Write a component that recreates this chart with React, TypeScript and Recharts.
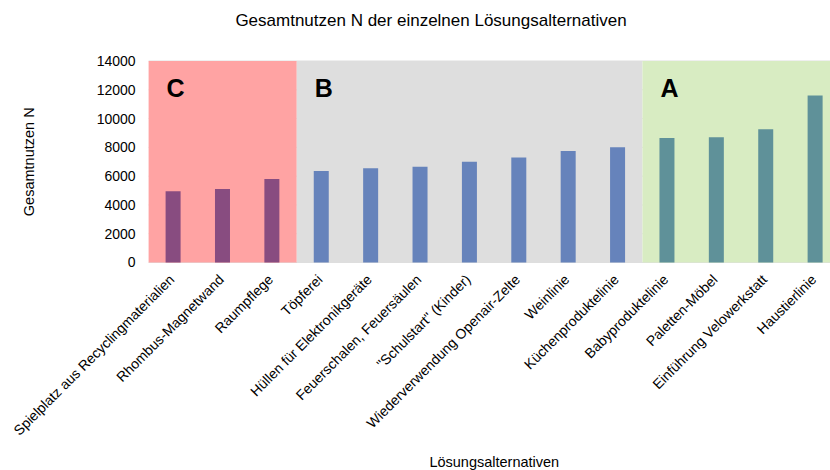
import {
    BarChart, Bar, XAxis, YAxis, CartesianGrid, ReferenceArea, Cell, Label,
} from 'recharts';

const categories = [
    'Spielplatz aus Recyclingmaterialien',
    'Rhombus-Magnetwand',
    'Raumpflege',
    'Töpferei',
    'Hüllen für Elektronikgeräte',
    'Feuerschalen, Feuersäulen',
    '"Schulstart" (Kinder)',
    'Wiederverwendung Openair-Zelte',
    'Weinlinie',
    'Küchenproduktelinie',
    'Babyproduktelinie',
    'Paletten-Möbel',
    'Einführung Velowerkstatt',
    'Haustierlinie',
];
const values = [4950, 5100, 5800, 6350, 6550, 6650, 7000, 7300, 7750, 8000, 8650, 8700, 9250, 11600];
const groups = ['C', 'C', 'C', 'B', 'B', 'B', 'B', 'B', 'B', 'B', 'A', 'A', 'A', 'A'];
const yTicks = [0, 2000, 4000, 6000, 8000, 10000, 12000, 14000];

const BAR_COLORS: Record<string, string> = { C: '#884c80', B: '#6683bb', A: '#5f9199' };
const AREA_COLORS: Record<string, string> = { C: '#ffa3a3', B: '#dedede', A: '#d8ecc2' };

const data = categories.map((name, i) => ({ name, value: values[i], group: groups[i] }));

const regions = ['C', 'B', 'A'].map(g => {
    const members = data.filter(d => d.group === g);
    return { group: g, first: members[0].name, last: members[members.length - 1].name };
});

function AngledTick({ x, y, payload }: any) {
    return (
        <text
            x={x + 2}
            y={y + 10}
            transform={`rotate(-45, ${x + 2}, ${y + 10})`}
            textAnchor="end"
            fontSize={14}
            fill="#000"
        >
            {payload.value}
        </text>
    );
}

export default function App() {
    return (
        <div style={{
            position: 'absolute', left: 0, top: 0, width: 830, height: 470, overflow: 'hidden',
            background: '#fff', fontFamily: '"Liberation Sans", Arial, sans-serif',
        }}>
            <div style={{
                position: 'absolute', left: 0, top: 11, width: 862, textAlign: 'center', fontSize: 17, color: '#000',
            }}>
                Gesamtnutzen N der einzelnen Lösungsalternativen
            </div>
            <BarChart
                width={845}
                height={470}
                data={data}
                margin={{ top: 61, right: 5, bottom: 0, left: 0 }}
                barCategoryGap={0}
            >
                {regions.map(r => (
                    <ReferenceArea
                        key={r.group}
                        x1={r.first}
                        x2={r.last}
                        fill={AREA_COLORS[r.group]}
                        fillOpacity={1}
                        stroke="none"
                        ifOverflow="visible"
                    >
                        <Label
                            value={r.group}
                            position="insideTopLeft"
                            offset={18}
                            style={{ fontSize: 25, fontWeight: 'bold', fill: '#000' }}
                        />
                    </ReferenceArea>
                ))}
                <CartesianGrid vertical={false} stroke="#000" strokeOpacity={0.13} />
                <XAxis
                    dataKey="name"
                    interval={0}
                    height={207.5}
                    axisLine={false}
                    tickLine={false}
                    tick={<AngledTick />}
                >
                    <Label value="Lösungsalternativen" position="insideBottom" offset={3} style={{ fontSize: 14.5, fill: '#000' }} />
                </XAxis>
                <YAxis
                    domain={[0, 14000]}
                    ticks={yTicks}
                    width={148.6}
                    axisLine={false}
                    tickLine={false}
                    tickMargin={7}
                    tick={{ fill: '#000', fontSize: 14 }}
                >
                    <Label value="Gesamtnutzen N" angle={-90} position="insideLeft" offset={29} style={{ fontSize: 14.5, fill: '#000', textAnchor: 'middle' }} />
                </YAxis>
                <Bar dataKey="value" barSize={15} isAnimationActive={false}>
                    {data.map((d, i) => (
                        <Cell key={`cell-${i}`} fill={BAR_COLORS[d.group]} />
                    ))}
                </Bar>
            </BarChart>
        </div>
    );
}
